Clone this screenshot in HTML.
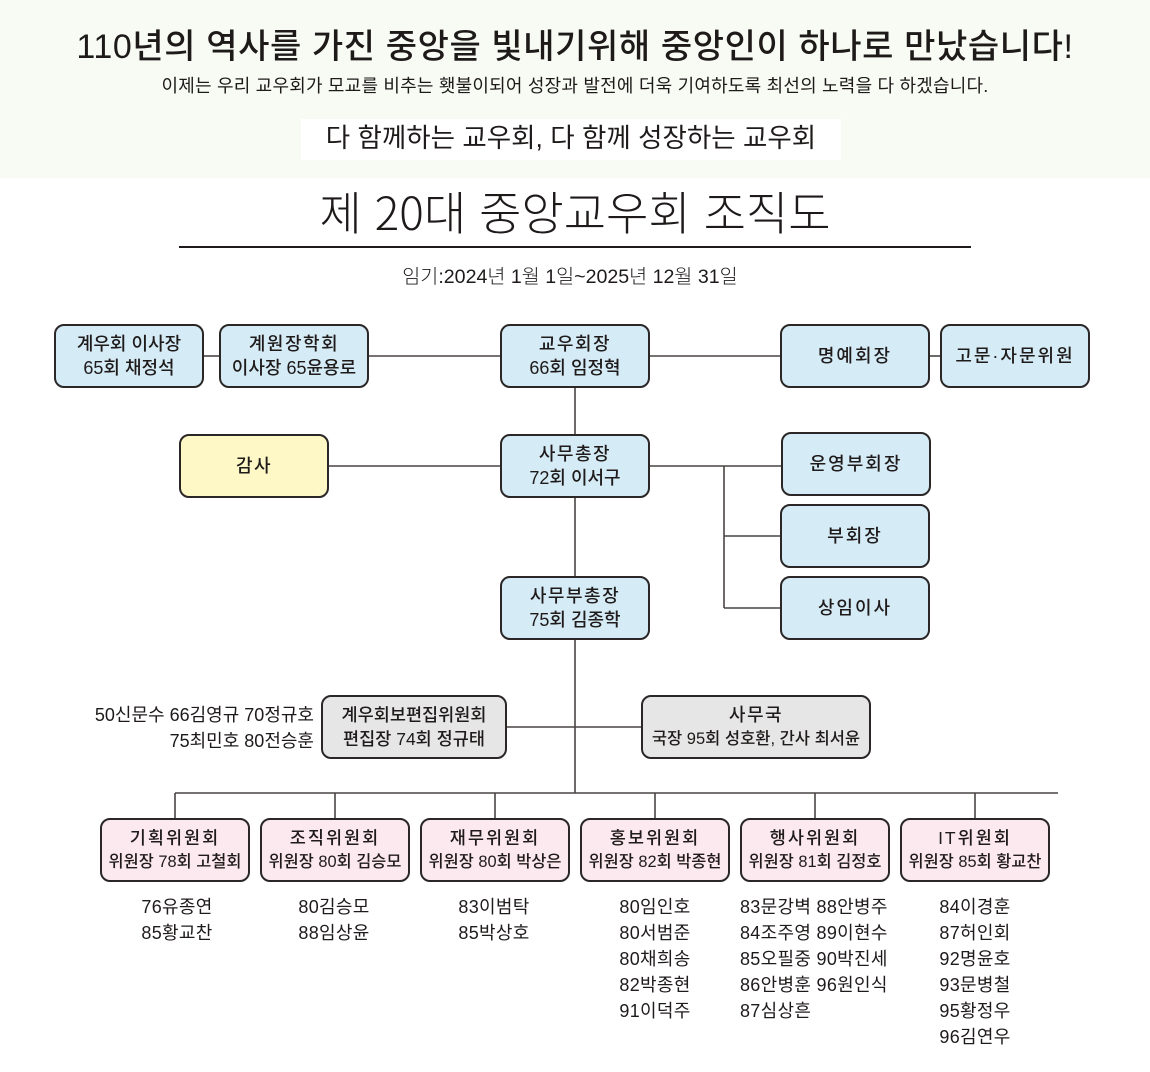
<!DOCTYPE html>
<html lang="ko">
<head>
<meta charset="utf-8">
<style>
  html,body{margin:0;padding:0;}
  body{width:1150px;height:1072px;position:relative;background:#ffffff;overflow:hidden;
       font-family:"Liberation Sans","Noto Sans CJK KR",sans-serif;color:#1e1a1a;}
  .hdr{position:absolute;left:0;top:0;width:1150px;height:178px;background:#f7fbf3;}
  .t{position:absolute;white-space:nowrap;}
  .c{text-align:center;}
  .box{position:absolute;box-sizing:border-box;border:2px solid #2b2727;border-radius:10px;
       display:flex;flex-direction:column;align-items:center;justify-content:center;
       font-size:18px;line-height:24px;font-weight:500;color:#1f1b1b;text-align:center;white-space:nowrap;}
  .blue{background:#d5ebf6;}
  .yel{background:#fdf8c6;}
  .gray{background:#e6e6e6;}
  .pink{background:#fce8ef;}
  .sp{letter-spacing:1.5px;}
  .sp2{letter-spacing:2px;}
  .cm .a{letter-spacing:2px;font-size:17.5px;}
  .cm .b{font-size:16.4px;}
  .names{position:absolute;font-size:18px;line-height:26px;letter-spacing:0.3px;text-align:center;white-space:nowrap;color:#1f1b1b;}
  svg{position:absolute;left:0;top:0;}
</style>
</head>
<body>
<div class="hdr"></div>
<div class="t c" style="left:0;width:1150px;top:25px;font-size:34px;line-height:44px;font-weight:500;letter-spacing:0.6px;">110년의 역사를 가진 중앙을 빛내기위해 중앙인이 하나로 만났습니다!</div>
<div class="t c" style="left:0;width:1150px;top:74px;font-size:18px;line-height:24px;letter-spacing:0.2px;">이제는 우리 교우회가 모교를 비추는 횃불이되어 성장과 발전에 더욱 기여하도록 최선의 노력을 다 하겠습니다.</div>
<div style="position:absolute;left:301px;top:119px;width:540px;height:41px;background:#ffffff;"></div>
<div class="t c" style="left:301px;width:540px;top:118px;font-size:26.5px;line-height:40px;">다 함께하는 교우회, 다 함께 성장하는 교우회</div>

<div class="t c" style="left:0;width:1150px;top:182px;font-size:46px;line-height:58px;font-weight:300;font-family:'Noto Sans CJK KR','Liberation Sans',sans-serif;">제 20대 중앙교우회 조직도</div>
<div style="position:absolute;left:179px;top:246px;width:792px;height:1.5px;background:#1e1a1a;"></div>
<div class="t c" style="left:0;width:1140px;top:264px;font-size:19.6px;line-height:26px;font-weight:300;">임기:2024년 1월 1일~2025년 12월 31일</div>

<svg width="1150" height="1072" viewBox="0 0 1150 1072">
  <g stroke="#4a4444" stroke-width="1.6" fill="none">
    <line x1="204" y1="356" x2="219" y2="356"/>
    <line x1="369" y1="356" x2="500" y2="356"/>
    <line x1="650" y1="356" x2="780" y2="356"/>
    <line x1="930" y1="356" x2="940" y2="356"/>
    <line x1="575" y1="388" x2="575" y2="793"/>
    <line x1="329" y1="466" x2="500" y2="466"/>
    <line x1="650" y1="466" x2="781" y2="466"/>
    <line x1="724" y1="466" x2="724" y2="608"/>
    <line x1="724" y1="536" x2="780" y2="536"/>
    <line x1="724" y1="608" x2="780" y2="608"/>
    <line x1="507" y1="727" x2="641" y2="727"/>
    <line x1="175" y1="793" x2="1058" y2="793"/>
    <line x1="175" y1="793" x2="175" y2="818"/>
    <line x1="335" y1="793" x2="335" y2="818"/>
    <line x1="495" y1="793" x2="495" y2="818"/>
    <line x1="655" y1="793" x2="655" y2="818"/>
    <line x1="815" y1="793" x2="815" y2="818"/>
    <line x1="975" y1="793" x2="975" y2="818"/>
  </g>
</svg>

<div class="box blue" style="left:54px;top:324px;width:150px;height:64px;"><div>계우회 이사장</div><div>65회 채정석</div></div>
<div class="box blue" style="left:219px;top:324px;width:150px;height:64px;"><div class="sp">계원장학회</div><div>이사장 65윤용로</div></div>
<div class="box blue" style="left:500px;top:324px;width:150px;height:64px;"><div class="sp">교우회장</div><div>66회 임정혁</div></div>
<div class="box blue" style="left:780px;top:324px;width:150px;height:64px;"><div class="sp2">명예회장</div></div>
<div class="box blue" style="left:940px;top:324px;width:150px;height:64px;"><div class="sp2">고문·자문위원</div></div>

<div class="box yel" style="left:179px;top:434px;width:150px;height:64px;"><div class="sp">감사</div></div>
<div class="box blue" style="left:500px;top:434px;width:150px;height:64px;"><div class="sp">사무총장</div><div>72회 이서구</div></div>
<div class="box blue" style="left:781px;top:432px;width:150px;height:64px;"><div class="sp2">운영부회장</div></div>
<div class="box blue" style="left:780px;top:504px;width:150px;height:64px;"><div class="sp2">부회장</div></div>
<div class="box blue" style="left:780px;top:576px;width:150px;height:64px;"><div class="sp2">상임이사</div></div>
<div class="box blue" style="left:500px;top:576px;width:150px;height:64px;"><div class="sp">사무부총장</div><div>75회 김종학</div></div>

<div class="t" style="right:836px;top:702px;font-size:18px;line-height:26px;text-align:right;">50신문수 66김영규 70정규호<br>75최민호 80전승훈</div>
<div class="box gray" style="left:321px;top:695px;width:186px;height:64px;"><div style="font-size:17.5px;">계우회보편집위원회</div><div style="font-size:17.5px;">편집장 74회 정규태</div></div>
<div class="box gray" style="left:641px;top:695px;width:230px;height:64px;"><div class="sp">사무국</div><div style="font-size:16.5px;">국장 95회 성호환, 간사 최서윤</div></div>

<div class="box pink cm" style="left:100px;top:818px;width:150px;height:64px;"><div class="a">기획위원회</div><div class="b">위원장 78회 고철회</div></div>
<div class="box pink cm" style="left:260px;top:818px;width:150px;height:64px;"><div class="a">조직위원회</div><div class="b">위원장 80회 김승모</div></div>
<div class="box pink cm" style="left:420px;top:818px;width:150px;height:64px;"><div class="a">재무위원회</div><div class="b">위원장 80회 박상은</div></div>
<div class="box pink cm" style="left:580px;top:818px;width:150px;height:64px;"><div class="a">홍보위원회</div><div class="b">위원장 82회 박종현</div></div>
<div class="box pink cm" style="left:740px;top:818px;width:150px;height:64px;"><div class="a">행사위원회</div><div class="b">위원장 81회 김정호</div></div>
<div class="box pink cm" style="left:900px;top:818px;width:150px;height:64px;"><div class="a">IT위원회</div><div class="b">위원장 85회 황교찬</div></div>

<div class="names" style="left:102px;width:150px;top:894px;">76유종연<br>85황교찬</div>
<div class="names" style="left:259px;width:150px;top:894px;">80김승모<br>88임상윤</div>
<div class="names" style="left:419px;width:150px;top:894px;">83이범탁<br>85박상호</div>
<div class="names" style="left:580px;width:150px;top:894px;">80임인호<br>80서범준<br>80채희송<br>82박종현<br>91이덕주</div>
<div class="names" style="left:740px;width:160px;top:894px;text-align:left;">83문강벽 88안병주<br>84조주영 89이현수<br>85오필중 90박진세<br>86안병훈 96원인식<br>87심상흔</div>
<div class="names" style="left:900px;width:150px;top:894px;">84이경훈<br>87허인회<br>92명윤호<br>93문병철<br>95황정우<br>96김연우</div>
</body>
</html>
